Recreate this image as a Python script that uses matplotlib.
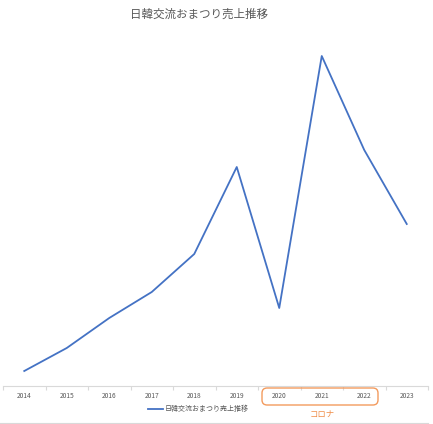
import matplotlib
matplotlib.use("Agg")
import matplotlib.pyplot as plt
from matplotlib.patches import FancyBboxPatch
from matplotlib.lines import Line2D

plt.rcParams['font.family'] = ['Noto Sans CJK JP', 'DejaVu Sans']

years = ["2014", "2015", "2016", "2017", "2018", "2019", "2020", "2021", "2022", "2023"]
sales = [15, 38, 68, 94, 132, 219, 78, 330, 236, 162]
title = "日韓交流おまつり売上推移"
note = "コロナ"

W, H = 433, 424
fig = plt.figure(figsize=(W / 100, H / 100), dpi=100)

# plot area in pixel terms: x 3..428, y 41..386 (from top)
ax = fig.add_axes([3 / W, (H - 386) / H, 425 / W, 345 / H])
x = list(range(len(years)))
ax.plot(x, sales, color="#4472C4", linewidth=1.3, label=title)
ax.set_xlim(-0.5, len(years) - 0.5)
ax.set_ylim(0, 345)
ax.set_yticks([])
for s in ["top", "right", "left"]:
    ax.spines[s].set_visible(False)
ax.spines["bottom"].set_color("#d9d9d9")
ax.spines["bottom"].set_linewidth(0.8)

ax.set_xticks(x)
ax.set_xticklabels(years, fontsize=4.8, color="#595959")
ax.tick_params(axis="x", which="major", length=0, pad=4.5)
ax.set_xticks([i - 0.5 for i in range(len(years) + 1)], minor=True)
ax.tick_params(axis="x", which="minor", length=3, color="#d9d9d9", width=0.8)

fig.text(199 / W, 1 - 14 / H, title, ha="center", va="center",
         fontsize=8.3, color="#595959")

# legend
fig.add_artist(Line2D([148 / W, 163 / W], [1 - 409 / H, 1 - 409 / H],
                      color="#4472C4", linewidth=1.3))
fig.text(165 / W, 1 - 409 / H, title, ha="left", va="center",
         fontsize=5, color="#595959")

# corona box
box = FancyBboxPatch((262 / W, 1 - 405 / H), 116 / W, 17 / H,
                     boxstyle="round,pad=0,rounding_size=0.012",
                     transform=fig.transFigure, fill=False,
                     edgecolor="#F39B5E", linewidth=1.0)
fig.add_artist(box)
fig.text(322 / W, 1 - 414 / H, note, ha="center", va="center",
         fontsize=6, color="#F08C46")

# bottom border line
fig.add_artist(Line2D([0, 428 / W], [1 - 422.5 / H, 1 - 422.5 / H],
                      color="#d9d9d9", linewidth=0.8))

fig.savefig("out.png", dpi=100)
